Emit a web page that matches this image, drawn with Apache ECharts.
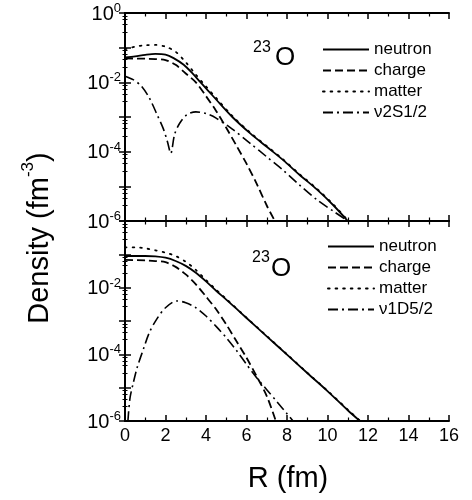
<!DOCTYPE html>
<html><head><meta charset="utf-8">
<script src="https://cdn.jsdelivr.net/npm/echarts@6/dist/echarts.min.js"></script>
<style>html,body{margin:0;padding:0;background:#fff}#c{width:472px;height:500px}</style>
</head><body><div id="c"></div>
<script>
// ---- Data (R in fm, density in fm^-3) ----
var xTicks = [0, 2, 4, 6, 8, 10, 12, 14, 16];
var yTickExps = [0, -2, -4, -6];

// Upper panel
var topNeutron = [[0,0.052],[0.5,0.056],[1,0.062],[1.5,0.066],[2,0.063],[2.4,0.050],[2.9,0.032],[3.3,0.019],[3.7,0.0105],[4.1,0.0058],[4.5,0.0032],[5.3,0.0010],[6.2,3.3e-4],[7,1.38e-4],[7.8,5.8e-5],[8.6,2.2e-5],[9.5,7.9e-6],[10.3,2.8e-6],[11,1.0e-6]];
var topCharge = [[0,0.049],[1,0.048],[1.5,0.047],[2,0.044],[2.5,0.032],[3,0.018],[3.5,0.010],[4,0.0040],[4.5,0.0015],[5,4.9e-4],[5.5,1.5e-4],[6,4.5e-5],[6.5,1.2e-5],[7,2.8e-6],[7.4,1.0e-6]];
var topMatter = [[0,0.089],[0.5,0.107],[1,0.117],[1.5,0.120],[2,0.107],[2.5,0.076],[3,0.038],[3.5,0.0166],[4,0.0076],[4.5,0.00355],[5.3,0.00107],[6.2,3.47e-4],[7,1.45e-4],[7.8,6.0e-5],[8.6,2.3e-5],[9.5,8.3e-6],[10.3,2.95e-6],[11,1.05e-6]];
var topOrbital = [[0,0.0151],[0.4,0.012],[0.8,0.0079],[1.2,0.00355],[1.6,0.00112],[1.9,4.47e-4],[2.1,1.9e-4],[2.26,8.9e-5],[2.45,3.16e-4],[2.7,6.6e-4],[3.05,0.00115],[3.5,0.00141],[4,0.00126],[4.5,9.3e-4],[5.3,4.47e-4],[6.2,1.7e-4],[7,7.1e-5],[7.8,2.95e-5],[8.6,1.12e-5],[9.5,4.0e-6],[10.3,1.9e-6],[11,1.0e-6]];

// Lower panel
var botNeutron = [[0,0.089],[1,0.089],[1.5,0.087],[2,0.079],[2.5,0.063],[3,0.045],[3.5,0.028],[4,0.0155],[4.5,0.0081],[5,0.0044],[5.5,0.00234],[6,0.00123],[7,3.47e-4],[8,9.8e-5],[9,2.75e-5],[10,7.9e-6],[11,2.1e-6],[11.6,1.0e-6]];
var botCharge = [[0,0.068],[1,0.066],[1.5,0.063],[2,0.058],[2.5,0.042],[3,0.025],[3.5,0.0126],[4,0.0054],[4.5,0.00224],[5,7.9e-4],[5.5,2.5e-4],[6,7.9e-5],[6.5,2.2e-5],[7,5.6e-6],[7.45,1.0e-6]];
var botMatter = [[0,0.162],[0.5,0.162],[1,0.151],[1.5,0.132],[2,0.112],[2.5,0.089],[3,0.060],[3.5,0.034],[4,0.017],[4.5,0.0087],[5,0.0046],[6,0.00126],[7,3.55e-4],[8,1.0e-4],[9,2.8e-5],[10,8.1e-6],[11,2.2e-6],[11.6,1.02e-6]];
var botOrbital = [[0.1,2.5e-7],[0.15,1.12e-6],[0.25,5.0e-6],[0.4,1.32e-5],[0.6,4.0e-5],[0.9,1.38e-4],[1.2,4.47e-4],[1.56,0.00112],[2,0.0025],[2.55,0.0040],[3,0.00355],[3.5,0.0025],[4,0.00141],[4.5,6.9e-4],[5,3.16e-4],[5.5,1.32e-4],[6,5.0e-5],[6.5,2.0e-5],[7,8.7e-6],[7.5,3.8e-6],[8,1.66e-6],[8.3,1.0e-6]];

var names = ['neutron', 'charge', 'matter'];
var orbitalTop = 'ν2S1/2';
var orbitalBot = 'ν1D5/2';

// ---- Styles ----
var FONT = '"Liberation Sans", Arial, Helvetica, sans-serif';
var styles = {
  neutron: {type: 'solid', width: 1.8},
  charge: {type: [8, 4], width: 1.8},
  matter: {type: [1.6, 6], width: 1.8, cap: 'round'},
  orbital: {type: [10, 4, 2, 4], width: 1.6}
};

var chart = echarts.init(document.getElementById('c'), null, {renderer: 'canvas'});

var G = [{left: 125, top: 13, width: 324, height: 208}, {left: 125, top: 221, width: 324, height: 200}];

function hiddenSplit() { return {show: true, lineStyle: {color: 'rgba(0,0,0,0)', width: 0, opacity: 0}}; }

function xAx(gi, pos, labels) {
  return {
    type: 'value', gridIndex: gi, position: pos, min: 0, max: 16, interval: 2,
    axisLine: {show: true, lineStyle: {color: '#000', width: 2}},
    axisTick: {show: true, inside: true, length: 6, lineStyle: {color: '#000', width: 1.5}},
    minorTick: {show: true, splitNumber: 2, length: 3.5, lineStyle: {color: '#000', width: 1.2}},
    splitLine: hiddenSplit(),
    axisLabel: {show: labels, color: '#000', fontFamily: FONT, fontSize: 18, margin: 6,
      formatter: function (v) { return xTicks.indexOf(v) >= 0 ? String(v) : ''; }}
  };
}
function yAx(gi, pos, labels, hideTop) {
  return {
    type: 'log', logBase: 10, gridIndex: gi, position: pos, min: 1e-6, max: 1, interval: 1,
    axisLine: {show: true, lineStyle: {color: '#000', width: 2}},
    axisTick: {show: true, inside: true, length: 6, lineStyle: {color: '#000', width: 1.5}},
    minorTick: {show: true, length: 2.5, lineStyle: {color: '#000', width: 1}},
    splitLine: hiddenSplit(),
    axisLabel: {show: labels, color: '#000', fontFamily: FONT, margin: 4,
      formatter: function (v) {
        var e = Math.round(Math.log10(v));
        if (yTickExps.indexOf(e) < 0) return '';
        if (hideTop && e === 0) return '';
        return '{b|10}{s|' + e + '}';
      },
      rich: {
        b: {fontSize: 20, fontFamily: FONT, color: '#000', verticalAlign: 'bottom', lineHeight: 22},
        s: {fontSize: 13, fontFamily: FONT, color: '#000', verticalAlign: 'top', lineHeight: 22, padding: [0, 0, 9, 0]}
      }
    }
  };
}

function ser(name, data, st, xi, yi) {
  return {
    name: name, type: 'line', data: data, xAxisIndex: xi, yAxisIndex: yi,
    showSymbol: false, symbol: 'none', smooth: 0.3, clip: true, animation: false,
    itemStyle: {color: '#000'},
    lineStyle: {color: '#000', width: st.width, type: st.type, cap: st.cap || 'butt'}
  };
}

var legendBase = {
  orient: 'vertical', itemWidth: 46, itemHeight: 14, itemGap: 4,
  itemStyle: {color: 'rgba(0,0,0,0)', borderColor: 'rgba(0,0,0,0)', borderWidth: 0, opacity: 0},
  textStyle: {fontFamily: FONT, fontSize: 17, color: '#000'},
  selectedMode: false
};

var option = {
  backgroundColor: '#fff',
  animation: false,
  grid: G.map(function (g) { return Object.assign({containLabel: false}, g); }),
  xAxis: [xAx(0, 'bottom', false), xAx(0, 'top', false), xAx(1, 'bottom', true), xAx(1, 'top', false)],
  yAxis: [yAx(0, 'left', true, false), yAx(0, 'right', false, false), yAx(1, 'left', true, true), yAx(1, 'right', false, false)],
  legend: [
    Object.assign({}, legendBase, {left: 317, top: 36, data: [names[0], names[1], names[2], orbitalTop]}),
    Object.assign({}, legendBase, {left: 322, top: 233, data: [names[0], names[1], names[2], orbitalBot]})
  ],
  series: [
    ser(names[0], topNeutron, styles.neutron, 0, 0),
    ser(names[1], topCharge, styles.charge, 0, 0),
    ser(names[2], topMatter, styles.matter, 0, 0),
    ser(orbitalTop, topOrbital, styles.orbital, 0, 0),
    ser(names[0], botNeutron, styles.neutron, 2, 2),
    ser(names[1], botCharge, styles.charge, 2, 2),
    ser(names[2], botMatter, styles.matter, 2, 2),
    ser(orbitalBot, botOrbital, styles.orbital, 2, 2)
  ],
  graphic: [
    {type: 'text', left: 253, top: 40, style: {text: '23', font: '16px ' + FONT, fill: '#000'}},
    {type: 'text', left: 275, top: 45, style: {text: 'O', font: '26px ' + FONT, fill: '#000'}},
    {type: 'text', left: 252, top: 250, style: {text: '23', font: '16px ' + FONT, fill: '#000'}},
    {type: 'text', left: 271, top: 256, style: {text: 'O', font: '26px ' + FONT, fill: '#000'}},
    {type: 'text', x: 54, y: 238, rotation: Math.PI / 2,
      style: {text: '{b|Density (fm}{s|-3}{b|)}', align: 'center', verticalAlign: 'bottom',
        rich: {b: {font: '29px ' + FONT, fill: '#000', verticalAlign: 'bottom', lineHeight: 34},
               s: {font: '17px ' + FONT, fill: '#000', verticalAlign: 'top', lineHeight: 34, padding: [0, 0, 16, 0]}}}},
    {type: 'text', x: 288, y: 479, style: {text: 'R (fm)', font: '29px ' + FONT, fill: '#000', align: 'center', verticalAlign: 'middle'}}
  ]
};
chart.setOption(option);
</script></body></html>
